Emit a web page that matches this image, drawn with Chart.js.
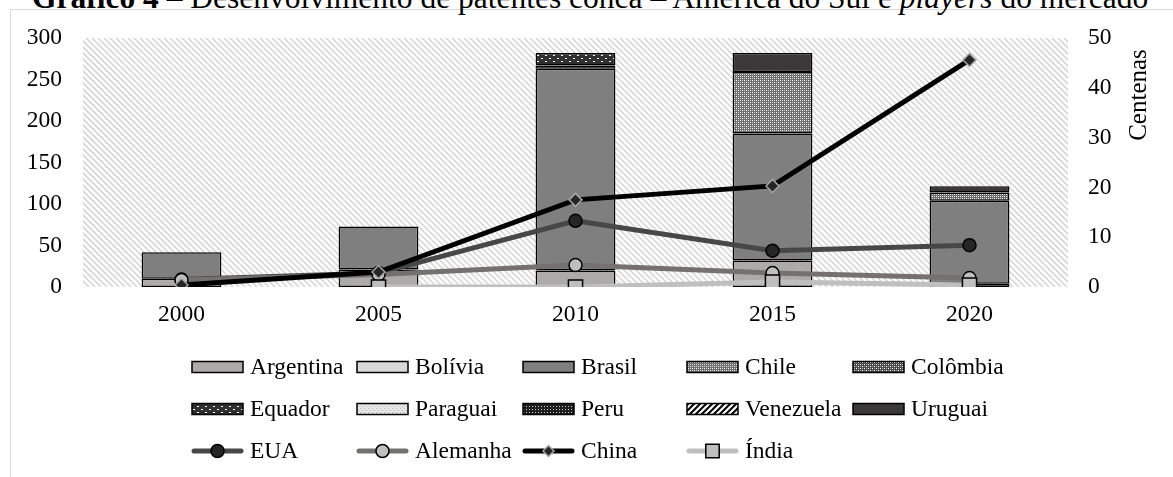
<!DOCTYPE html>
<html><head><meta charset="utf-8">
<script src="https://cdn.jsdelivr.net/npm/chart.js@4.4.1/dist/chart.umd.min.js"></script>
<style>
html,body{margin:0;padding:0;background:#fff;overflow:hidden;}
#wrap{position:relative;width:1173px;height:477px;overflow:hidden;}
#frame{position:absolute;left:10px;top:9px;width:1300px;height:600px;border:1px solid #d9d9d9;}
#title{position:absolute;left:32px;top:-18px;white-space:nowrap;font-family:'Liberation Serif';font-size:31.5px;line-height:31.5px;color:#000;}
#c{position:absolute;left:0;top:0;}
</style></head><body>
<div id="wrap"><div id="frame"></div><div id="title"><b>Gráfico 4</b> – Desenvolvimento de patentes conca – América do Sul e <i>players</i> do mercado</div><canvas id="c" width="1173" height="477"></canvas></div>
<script>
const years = ['2000','2005','2010','2015','2020'];
const leftTicks = [0,50,100,150,200,250,300];
const rightTicks = [0,10,20,30,40,50];
const rightAxisTitle = 'Centenas';

const barNames = ['Argentina','Bolívia','Brasil','Chile','Colômbia','Equador','Paraguai','Peru','Venezuela','Uruguai'];
const argentina = [10,21,20,32,4];
const bolivia   = [null,null,null,null,null];
const brasil    = [32,52,243,153,100];
const chile     = [null,null,4,74,10];
const colombia  = [null,null,null,null,null];
const equador   = [null,null,15,null,null];
const paraguai  = [null,null,null,null,null];
const peru      = [null,null,null,null,null];
const venezuela = [null,null,null,null,null];
const uruguai   = [null,null,null,23,7.5];

const lineNames = ['EUA','Alemanha','China','Índia'];
const eua      = [1.5,2.8,13.3,7.3,8.4];
const alemanha = [1.4,2.5,4.4,2.8,1.8];
const china    = [0.4,3.0,17.5,20.3,45.6];
const india    = [null,0,0,1,0.4];

const FONT = 'Liberation Serif';

function tile(w,h,draw){
  const c=document.createElement('canvas');c.width=w;c.height=h;
  const x=c.getContext('2d');draw(x,w,h);
  return x.createPattern(c,'repeat');
}
const patChile = tile(4,4,(x)=>{x.fillStyle='#6e6e6e';x.fillRect(0,0,4,4);x.fillStyle='#ffffff';x.fillRect(0,0,1,1);x.fillRect(2,2,1,1);x.fillStyle='#c8c8c8';x.fillRect(2,0,1,1);x.fillRect(0,2,1,1);});
const patColombia = tile(4,4,(x)=>{x.fillStyle='#4a4a4a';x.fillRect(0,0,4,4);x.fillStyle='#ffffff';x.fillRect(0,0,1,1);x.fillRect(2,2,1,1);x.fillStyle='#a0a0a0';x.fillRect(2,0,1,1);x.fillRect(0,2,1,1);});
const patEquador = tile(8,6,(x)=>{x.fillStyle='#303030';x.fillRect(0,0,8,6);x.fillStyle='#ffffff';x.fillRect(1,1,2,1);x.fillRect(5,4,2,1);});
const patParaguai = tile(4,4,(x)=>{x.fillStyle='#e6e6e6';x.fillRect(0,0,4,4);x.fillStyle='#b8b8b8';x.fillRect(0,0,1,1);x.fillRect(2,2,1,1);});
const patPeru = tile(3,3,(x)=>{x.fillStyle='#1e1e1e';x.fillRect(0,0,3,3);x.fillStyle='#cfcfcf';x.fillRect(1,1,1,1);});
const patVenezuela = tile(6,6,(x)=>{x.fillStyle='#ffffff';x.fillRect(0,0,6,6);x.strokeStyle='#000';x.lineWidth=2;x.beginPath();x.moveTo(-1,7);x.lineTo(7,-1);x.moveTo(-4,4);x.lineTo(4,-4);x.moveTo(2,10);x.lineTo(10,2);x.stroke();});

const barData = [argentina,bolivia,brasil,chile,colombia,equador,paraguai,peru,venezuela,uruguai];
const barFills = ['#aeaaaa','#d9d9d9','#7f7f7f',patChile,patColombia,patEquador,patParaguai,patPeru,patVenezuela,'#3a3838'];

const datasets = [];
barNames.forEach((n,i)=>{
  datasets.push({type:'bar',label:n,data:barData[i],backgroundColor:barFills[i],borderColor:'#000',borderWidth:1.5,borderSkipped:false,yAxisID:'y',order:10,categoryPercentage:1,barPercentage:0.405});
});
const lineData=[eua,alemanha,china,india];
const lineStyles=[
  {borderColor:'#474747',borderWidth:5,pointStyle:'circle',pointRadius:6.5,pointBackgroundColor:'#262626',pointBorderColor:'#000',pointBorderWidth:1.5,order:4},
  {borderColor:'#767171',borderWidth:5,pointStyle:'circle',pointRadius:6.5,pointBackgroundColor:'#bfbfbf',pointBorderColor:'#000',pointBorderWidth:1.5,order:3},
  {borderColor:'#000000',borderWidth:5,pointStyle:'rectRot',pointRadius:6.5,pointBackgroundColor:'#262626',pointBorderColor:'#a6a6a6',pointBorderWidth:1.5,order:2},
  {borderColor:'#bfbfbf',borderWidth:5,pointStyle:'rect',pointRadius:10,pointBackgroundColor:'#bfbfbf',pointBorderColor:'#000',pointBorderWidth:1.5,order:1}
];
lineNames.forEach((n,i)=>{
  datasets.push(Object.assign({type:'line',label:n,data:lineData[i],yAxisID:'y1',tension:0,fill:false,spanGaps:false},lineStyles[i]));
});

const hatchPlugin={id:'hatch',beforeDraw(chart){
  const {ctx,chartArea:a}=chart;ctx.save();
  ctx.beginPath();ctx.rect(a.left,a.top,a.right-a.left,a.bottom-a.top);ctx.clip();
  ctx.strokeStyle='#d6d6d6';ctx.lineWidth=1.6;ctx.beginPath();
  const h=a.bottom-a.top;
  for(let k=-h;k<a.right-a.left+h;k+=6){ctx.moveTo(a.left+k,a.top);ctx.lineTo(a.left+k+h,a.bottom);}
  ctx.stroke();ctx.restore();
}};

const legendCols=[192,357,523,687,853];
const legendRows=[367,409,451];
const overlayPlugin={id:'overlay',afterDraw(chart){
  const ctx=chart.ctx;ctx.save();
  ctx.translate(1139,95);ctx.rotate(-Math.PI/2);
  ctx.font='25px "'+FONT+'"';ctx.fillStyle='#000';ctx.textAlign='center';ctx.textBaseline='middle';
  ctx.fillText(rightAxisTitle,0,0);
  ctx.restore();
  const ds=chart.data.datasets;
  ctx.save();
  ctx.font='23.5px "'+FONT+'"';ctx.textBaseline='middle';ctx.textAlign='left';
  ds.forEach((d,i)=>{
    const col=i%5,row=Math.floor(i/5);
    const x=legendCols[col],y=legendRows[row];
    if(d.type==='bar'){
      ctx.fillStyle=d.backgroundColor;ctx.fillRect(x,y-5.5,51,11);
      ctx.strokeStyle='#000';ctx.lineWidth=1.5;ctx.strokeRect(x,y-5.5,51,11);
    }else{
      ctx.strokeStyle=d.borderColor;ctx.lineWidth=5;ctx.lineCap='round';
      ctx.beginPath();ctx.moveTo(x+2,y);ctx.lineTo(x+49,y);ctx.stroke();
      ctx.fillStyle=d.pointBackgroundColor;ctx.strokeStyle=d.pointBorderColor;ctx.lineWidth=d.pointBorderWidth;
      Chart.helpers.drawPoint(ctx,{pointStyle:d.pointStyle,radius:d.pointStyle==='rect'?9.5:(d.pointStyle==='rectRot'?5.5:6.5),rotation:0,borderWidth:d.pointBorderWidth},x+25.5,y);
    }
    ctx.fillStyle='#000';ctx.fillText(d.label,x+58,y+1);
  });
  ctx.restore();
}};

new Chart(document.getElementById('c'),{
  data:{labels:years,datasets},
  options:{
    responsive:false,animation:false,
    layout:{padding:{top:38,left:0,right:0,bottom:0}},
    plugins:{legend:{display:false},tooltip:{enabled:false},title:{display:false}},
    scales:{
      x:{stacked:true,grid:{display:false,drawTicks:false},border:{display:false},
         ticks:{color:'#000',font:{family:FONT,size:23.5},padding:14},
         afterFit(s){s.height=190;}},
      y:{stacked:true,position:'left',min:0,max:300,
         afterBuildTicks(s){s.ticks=leftTicks.map(v=>({value:v}));},
         grid:{display:false,drawTicks:false},border:{display:false},
         ticks:{color:'#000',font:{family:FONT,size:23.5},padding:21},
         afterFit(s){s.width=83;}},
      y1:{stacked:false,position:'right',min:0,max:50,
         afterBuildTicks(s){s.ticks=rightTicks.map(v=>({value:v}));},
         grid:{display:false,drawTicks:false},border:{display:false},
         ticks:{color:'#000',font:{family:FONT,size:23.5},padding:20},
         afterFit(s){s.width=105;}}
    }
  },
  plugins:[hatchPlugin,overlayPlugin]
});
</script>
</body></html>
